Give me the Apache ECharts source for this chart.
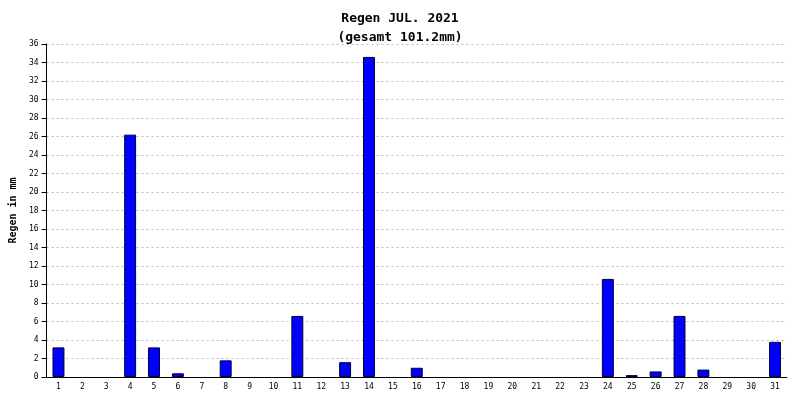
<!DOCTYPE html>
<html><head><meta charset="utf-8">
<script src="https://cdn.jsdelivr.net/npm/echarts@6/dist/echarts.min.js"></script>
<style>html,body{margin:0;background:#fff}#c{width:800px;height:400px}</style>
</head><body><div id="c"></div>
<script>
const days = Array.from({length:31},(_,i)=>String(i+1));
const rain = [3.2,0,0,26.2,3.2,0.4,0,1.8,0,0,6.6,0,1.6,34.6,0,1.0,0,0,0,0,0,0,0,10.6,0.2,0.6,6.6,0.8,0,0,3.8];
const yTicks = {min:0,max:36,interval:2};
const chart = echarts.init(document.getElementById('c'));
chart.setOption({
  animation:false,
  title:{text:'Regen JUL. 2021\n(gesamt 101.2mm)',left:'center',top:4,
    textStyle:{fontFamily:'DejaVu Sans Mono',fontWeight:'bold',fontSize:13,lineHeight:19,color:'#000'}},
  grid:{left:43,right:13,top:44,bottom:23},
  xAxis:{type:'category',data:days,
    axisLine:{lineStyle:{color:'#000'}},
    axisTick:{lineStyle:{color:'#000'}},
    axisLabel:{fontSize:8,color:'#000',fontFamily:'DejaVu Sans Mono',margin:6},
    splitLine:{show:false}},
  yAxis:{type:'value',...yTicks,name:'Regen in mm',nameLocation:'middle',nameGap:28,
    nameTextStyle:{fontFamily:'DejaVu Sans Mono',fontWeight:'bold',fontSize:10,color:'#000'},
    axisLine:{show:true,lineStyle:{color:'#000'}},
    axisTick:{show:true,lineStyle:{color:'#000'}},
    axisLabel:{fontSize:8,color:'#000',fontFamily:'DejaVu Sans Mono'},
    splitLine:{lineStyle:{color:'#bbb',type:[2,3]}}},
  series:[{type:'bar',data:rain.map(v=>v===0?'-':v),barWidth:'50%',
    itemStyle:{color:'#0000ff',borderColor:'#000033',borderWidth:1}}]
});
</script></body></html>
